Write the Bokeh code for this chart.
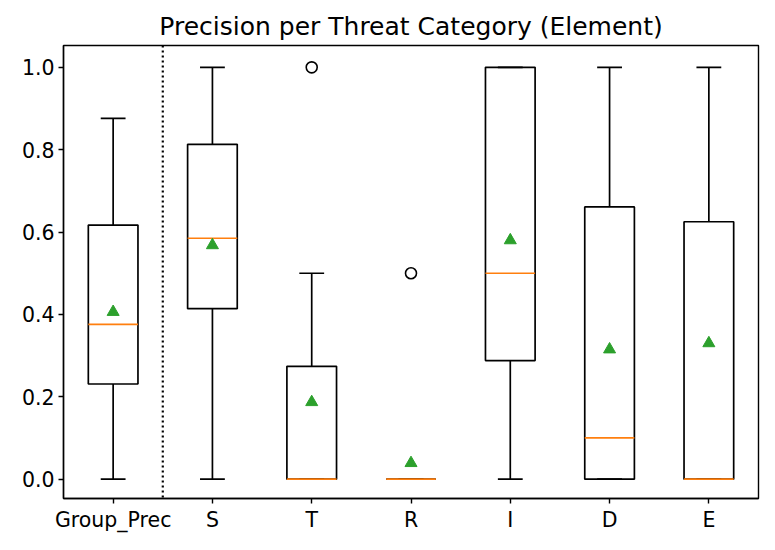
from bokeh.plotting import figure
from bokeh.models import FixedTicker, NumeralTickFormatter, Span, ColumnDataSource, Range1d
from bokeh.embed import file_html
from bokeh.resources import INLINE

categories = ["Group_Prec", "S", "T", "R", "I", "D", "E"]
whisker_low = [0.0, 0.0, 0.0, 0.0, 0.0, 0.0, 0.0]
q1 = [0.231, 0.414, 0.0, 0.0, 0.288, 0.0, 0.0]
median = [0.376, 0.585, 0.0, 0.0, 0.5, 0.1, 0.0]
q3 = [0.617, 0.813, 0.274, 0.0, 1.0, 0.661, 0.625]
whisker_high = [0.876, 1.0, 0.5, 0.0, 1.0, 1.0, 1.0]
means = [0.406, 0.568, 0.187, 0.039, 0.580, 0.315, 0.330]
outlier_cat = ["T", "R"]
outlier_val = [1.0, 0.5]

pos = [i + 1 for i in range(len(categories))]
box_half = 0.25
cap_half = 0.125

src = ColumnDataSource(dict(
    x=pos, lo=whisker_low, q1=q1, med=median, q3=q3, hi=whisker_high, mean=means,
    bl=[x - box_half for x in pos], br=[x + box_half for x in pos],
    cl=[x - cap_half for x in pos], cr=[x + cap_half for x in pos],
))

W, H = 770, 545
p = figure(width=W, height=H, output_backend="svg", toolbar_location=None,
           x_range=Range1d(0.5, 7.5), y_range=Range1d(-0.047, 1.053),
           title="Precision per Threat Category (Element)")
p.min_border_left = 63
p.min_border_right = 12
p.min_border_top = 45
p.min_border_bottom = 47
p.background_fill_color = "white"
p.border_fill_color = "white"
p.outline_line_color = "black"
p.outline_line_width = 1.4
p.xgrid.visible = False
p.ygrid.visible = False

p.title.align = "center"
p.title.text_font = "DejaVu Sans"
p.title.text_font_size = "25px"
p.title.text_font_style = "normal"
p.title.text_color = "black"
p.title.offset = 0

for ax in (p.xaxis[0], p.yaxis[0]):
    ax.axis_line_color = "black"
    ax.axis_line_width = 1.4
    ax.major_tick_line_color = "black"
    ax.major_tick_line_width = 1.4
    ax.major_tick_out = 5
    ax.major_tick_in = 0
    ax.minor_tick_line_color = None
    ax.major_label_text_font = "DejaVu Sans"
    ax.major_label_text_font_size = "20.5px"
    ax.major_label_text_color = "black"
    ax.major_label_standoff = 4

p.xaxis.ticker = FixedTicker(ticks=pos)
p.xaxis.major_label_overrides = {x: c for x, c in zip(pos, categories)}
p.yaxis.ticker = FixedTicker(ticks=[0.0, 0.2, 0.4, 0.6, 0.8, 1.0])
p.yaxis.formatter = NumeralTickFormatter(format="0.0")

LW = 1.7
# whiskers
p.segment(x0="x", y0="lo", x1="x", y1="q1", source=src, line_color="black", line_width=LW)
p.segment(x0="x", y0="q3", x1="x", y1="hi", source=src, line_color="black", line_width=LW)
p.segment(x0="cl", y0="lo", x1="cr", y1="lo", source=src, line_color="black", line_width=LW)
p.segment(x0="cl", y0="hi", x1="cr", y1="hi", source=src, line_color="black", line_width=LW)
# boxes
p.quad(left="bl", right="br", bottom="q1", top="q3", source=src,
       fill_color=None, line_color="black", line_width=LW)
# medians
p.segment(x0="bl", y0="med", x1="br", y1="med", source=src, line_color="#ff7f0e", line_width=LW)
# means
p.scatter(x="x", y="mean", source=src, marker="triangle", size=12,
          fill_color="#2ca02c", line_color="#2ca02c")
# outliers
ox = [pos[categories.index(c)] for c in outlier_cat]
p.scatter(x=ox, y=outlier_val, marker="circle", size=11,
          fill_color=None, line_color="black", line_width=1.6)

p.add_layout(Span(location=1.5, dimension="height", line_color="black",
                  line_dash="2 3", line_width=2.2))

open("out.html", "w").write(file_html(p, INLINE))
